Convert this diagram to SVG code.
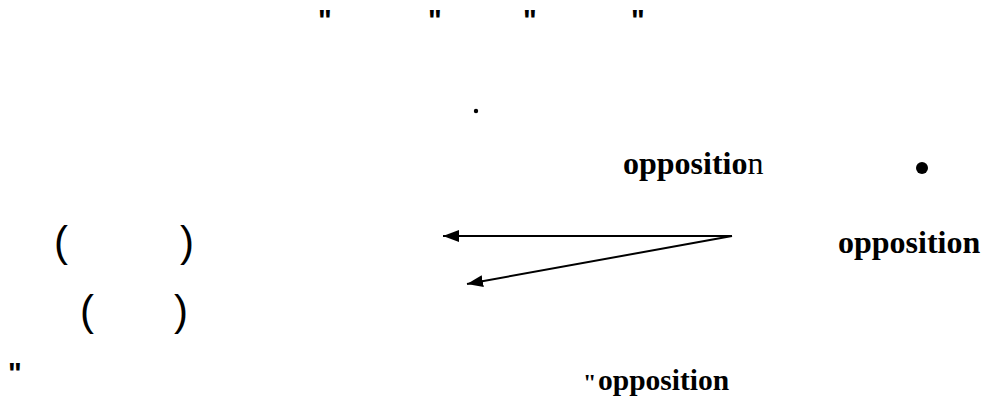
<svg xmlns="http://www.w3.org/2000/svg" width="991" height="409" viewBox="0 0 991 409">
<style>
.q{font-family:"Liberation Sans",Arial,sans-serif;font-weight:bold;font-size:29px;fill:#000}
.op{font-family:"Liberation Serif","Times New Roman",serif;font-weight:bold;font-size:32px;fill:#000}
.par{font-family:"Liberation Sans",Arial,sans-serif;font-size:42px;fill:#000}
.ln{stroke:#000;stroke-width:2;fill:none}
</style>
<defs>
<marker id="ah" viewBox="0 0 16 12" refX="16" refY="6" markerWidth="16" markerHeight="12" markerUnits="userSpaceOnUse" orient="auto">
<path d="M0,0 L16,6 L0,12 z" fill="#000"/>
</marker>
</defs>
<rect width="991" height="409" fill="#fff"/>
<g id="top-quotes">
<text class="q" x="318" y="30">"</text>
<text class="q" x="428" y="30">"</text>
<text class="q" x="523" y="30">"</text>
<text class="q" x="631" y="30">"</text>
</g>
<g id="dot"><circle cx="476" cy="111" r="2.2" fill="#000"/></g>
<g id="node-opposition-mid">
<text class="op" x="623" y="174">oppositio<tspan font-weight="normal">n</tspan></text>
</g>
<g id="node-bullet"><circle cx="922" cy="168" r="6" fill="#000"/></g>
<g id="node-parens-1">
<text class="par" x="54" y="256">(</text>
<text class="par" x="180" y="256">)</text>
</g>
<g id="node-parens-2">
<text class="par" x="80" y="325">(</text>
<text class="par" x="174" y="325">)</text>
</g>
<g id="node-opposition-right">
<text class="op" x="838" y="253">opposition</text>
</g>
<g id="node-bottom-left"><text class="q" x="8" y="383">"</text></g>
<g id="node-opposition-bottom">
<text class="op" x="583" y="390" style="font-size:24px">"</text>
<text class="op" x="598" y="390" style="font-size:29.5px">opposition</text>
</g>
<g id="connectors">
<line class="ln" x1="732" y1="236" x2="443" y2="236" marker-end="url(#ah)"/>
<line class="ln" x1="732" y1="236" x2="467" y2="284" marker-end="url(#ah)"/>
</g>
</svg>
